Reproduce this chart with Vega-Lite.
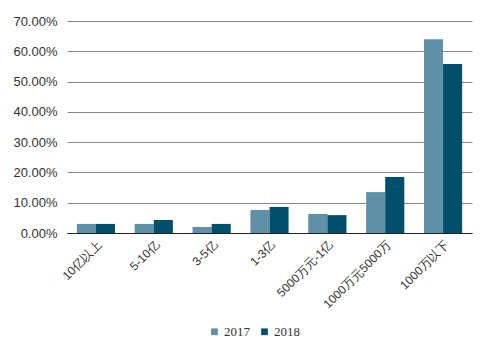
{
  "$schema": "https://vega.github.io/schema/vega-lite/v6.json",
  "width": 405,
  "height": 212,
  "autosize": {"type": "none"},
  "padding": {"left": 67, "top": 21, "right": 20, "bottom": 131},
  "background": "white",
  "data": {
    "values": [
      {"cat": "10亿以上", "year": "2017", "v": 0.030},
      {"cat": "10亿以上", "year": "2018", "v": 0.030},
      {"cat": "5-10亿", "year": "2017", "v": 0.030},
      {"cat": "5-10亿", "year": "2018", "v": 0.043},
      {"cat": "3-5亿", "year": "2017", "v": 0.020},
      {"cat": "3-5亿", "year": "2018", "v": 0.030},
      {"cat": "1-3亿", "year": "2017", "v": 0.076},
      {"cat": "1-3亿", "year": "2018", "v": 0.086},
      {"cat": "5000万元-1亿", "year": "2017", "v": 0.063},
      {"cat": "5000万元-1亿", "year": "2018", "v": 0.059},
      {"cat": "1000万元5000万", "year": "2017", "v": 0.135},
      {"cat": "1000万元5000万", "year": "2018", "v": 0.185},
      {"cat": "1000万以下", "year": "2017", "v": 0.640},
      {"cat": "1000万以下", "year": "2018", "v": 0.558}
    ]
  },
  "mark": {"type": "bar"},
  "encoding": {
    "x": {
      "field": "cat", "type": "nominal", "sort": null,
      "scale": {"paddingInner": 0.34, "paddingOuter": 0.17},
      "axis": {"title": null, "labelAngle": -45, "labelAlign": "right", "labelBaseline": "top",
        "labelFont": "Liberation Sans", "labelFontSize": 12, "labelColor": "#333",
        "ticks": false, "domainColor": "#222", "labelPadding": 6}
    },
    "xOffset": {"field": "year", "type": "nominal"},
    "y": {
      "field": "v", "type": "quantitative",
      "scale": {"domain": [0, 0.7], "nice": false},
      "axis": {"title": null, "format": ".2%", "values": [0, 0.1, 0.2, 0.3, 0.4, 0.5, 0.6, 0.7],
        "domain": false, "ticks": false, "labelPadding": 10,
        "labelFont": "Liberation Sans", "labelFontSize": 13, "labelColor": "#333",
        "gridColor": "#888", "gridWidth": 1}
    },
    "color": {
      "field": "year", "type": "nominal",
      "scale": {"domain": ["2017", "2018"], "range": ["#5F90A8", "#00506B"]},
      "legend": {"title": null, "orient": "none", "direction": "horizontal",
        "legendX": 141, "legendY": 304, "symbolType": "square", "symbolSize": 45,
        "labelFont": "Liberation Serif", "labelFontSize": 13, "labelColor": "#333",
        "columnPadding": 8, "symbolStrokeWidth": 0, "labelOffset": 3}
    }
  },
  "config": {"view": {"stroke": null}}
}
